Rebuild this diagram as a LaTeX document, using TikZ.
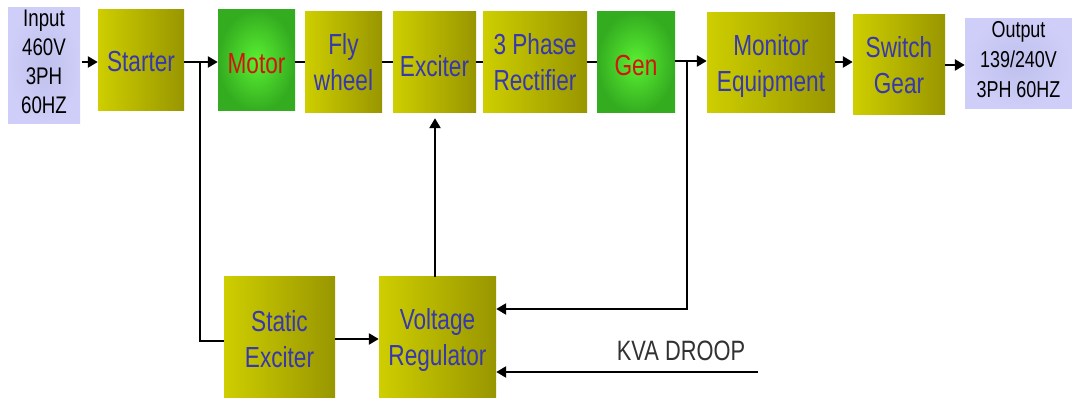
\documentclass[tikz,border=0pt]{standalone}
\usepackage{fontspec}
\setmainfont{Liberation Sans}[FakeStretch=0.78]
\usetikzlibrary{arrows.meta,calc}
\definecolor{yelL}{RGB}{206,206,0}
\definecolor{yelR}{RGB}{152,150,0}
\definecolor{grnIn}{RGB}{90,240,50}
\definecolor{grnOut}{RGB}{52,172,32}
\definecolor{lavIn}{RGB}{192,192,238}
\definecolor{lavOut}{RGB}{206,206,248}
\definecolor{txtBlue}{RGB}{55,55,175}
\definecolor{txtRed}{RGB}{210,20,10}
\definecolor{kvaGray}{RGB}{50,50,50}
\newcommand\lwr[2]{\raisebox{-#1}[\height][\depth]{#2}}
\newcommand\twol[2]{\begin{tabular}{@{}c@{}}#1\\#2\end{tabular}}
\tikzset{
  box/.style={rectangle, inner sep=0pt, align=center, font=\fontsize{29}{36}\selectfont},
  ybox/.style={box, left color=yelL, right color=yelR, text=txtBlue},
  gbox/.style={box, inner color=grnIn, outer color=grnOut, text=txtRed},
  lbox/.style={box, inner color=lavIn, outer color=lavOut, text=black, font=\fontsize{24}{29}\selectfont},
  ln/.style={draw=black, line width=2.4pt},
  arr/.style={ln, -{Triangle[length=10pt,width=11pt]}},
}
\begin{document}
\begin{tikzpicture}[x=1pt,y=-1pt]
\useasboundingbox[fill=white] (0,0) rectangle (1072,398);
% top row
\node[lbox, minimum width=72pt, minimum height=116pt] (input) at (44,65.5) {\lwr{-1pt}{\begin{tabular}{@{}c@{}}Input\\460V\\3PH\\60HZ\end{tabular}}};
\node[ybox, minimum width=86pt, minimum height=101pt] (starter) at (141,60.5) {\lwr{1.5pt}{Starter}};
\node[gbox, minimum width=77pt, minimum height=101pt] (motor) at (256.5,60.5) {\lwr{3.5pt}{Motor}};
\node[ybox, minimum width=77pt, minimum height=101pt] (fly) at (343.5,62.5) {\lwr{3pt}{\twol{Fly}{wheel}}};
\node[ybox, minimum width=83pt, minimum height=101pt] (exc) at (434.5,62.5) {\lwr{3.5pt}{Exciter}};
\node[ybox, minimum width=104pt, minimum height=101pt] (rect) at (535,62.5) {\lwr{3pt}{\twol{3 Phase}{Rectifier}}};
\node[gbox, minimum width=78pt, minimum height=101pt] (gen) at (636,62.5) {\lwr{3.5pt}{Gen}};
\node[ybox, minimum width=128pt, minimum height=100pt] (mon) at (771,63) {\lwr{3.5pt}{\twol{Monitor}{Equipment}}};
\node[ybox, minimum width=92pt, minimum height=100pt] (sw) at (899,65) {\lwr{3.5pt}{\twol{Switch}{Gear}}};
\node[lbox, minimum width=107pt, minimum height=89pt, font=\fontsize{23}{30}\selectfont] (out) at (1018.5,63.5) {\lwr{-2pt}{\begin{tabular}{@{}c@{}}Output\\139/240V\\3PH 60HZ\end{tabular}}};
% bottom row
\node[ybox, minimum width=111pt, minimum height=121pt] (sexc) at (279.5,337.5) {\lwr{5pt}{\twol{Static}{Exciter}}};
\node[ybox, minimum width=117pt, minimum height=121pt] (vr) at (437.5,337.5) {\lwr{3pt}{\twol{Voltage}{Regulator}}};
\node[text=kvaGray, font=\fontsize{28}{32}\selectfont] (kvatxt) at (681,351) {KVA DROOP};
% coordinates
\coordinate (br1) at (200,62);
\coordinate (br2) at (687,61);
\coordinate (kva) at (758,372);
% connectors top
\draw[arr, shorten <=2pt] (input.east |- 0,62) -- (starter.west |- 0,62);
\draw[arr] (starter.east |- br1) -- (motor.west |- br1);
\draw[ln] (motor.east |- 0,62) -- (fly.west |- 0,62);
\draw[ln] (fly.east |- 0,62) -- (exc.west |- 0,62);
\draw[ln] (exc.east |- 0,62) -- (rect.west |- 0,62);
\draw[ln] (rect.east |- 0,62) -- (gen.west |- 0,62);
\draw[arr] (gen.east |- br2) -- (mon.west |- br2);
\draw[arr] (mon.east |- 0,62) -- (sw.west |- 0,62);
\draw[arr] (sw.east |- 0,65) -- (out.west |- 0,65);
% feedback
\draw[ln] (br1) -- (br1 |- 0,341) -- (sexc.west |- 0,341);
\draw[arr] (sexc.east |- 0,339) -- (vr.west |- 0,339);
\draw[arr, shorten >=5pt] (vr.north -| 435,0) -- (exc.south -| 435,0);
\draw[arr] (br2) -- (br2 |- 0,309) -- (vr.east |- 0,309);
\draw[arr] (kva) -- (vr.east |- kva);
\end{tikzpicture}
\end{document}
